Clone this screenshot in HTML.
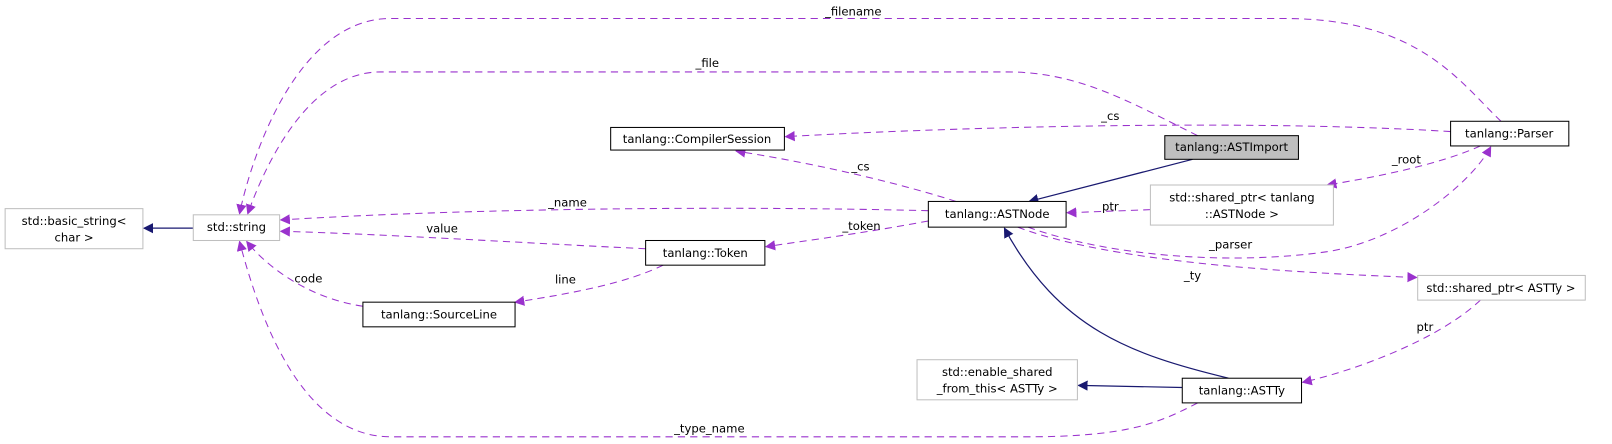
<!DOCTYPE html>
<html><head><meta charset="utf-8"><style>html,body{margin:0;padding:0;background:#fff}svg{display:block}</style></head>
<body>
<svg width="1612" height="444" viewBox="0 0 1568 432" preserveAspectRatio="none" xmlns="http://www.w3.org/2000/svg" font-family="'DejaVu Sans','Liberation Sans',sans-serif" font-size="11.3">
<defs>
<marker id="p" viewBox="0 0 10 10" refX="9" refY="5" markerWidth="10" markerHeight="10" markerUnits="userSpaceOnUse" orient="auto"><path d="M0,0 L10,5 L0,10 z" fill="#9a32cd"/></marker>
<marker id="n" viewBox="0 0 10 10" refX="9" refY="5" markerWidth="10" markerHeight="10" markerUnits="userSpaceOnUse" orient="auto"><path d="M0,0 L10,5 L0,10 z" fill="#191970"/></marker>
</defs>
<g fill="none" stroke="#191970" stroke-width="1.2">
<path d="M188,222 L140,222" marker-end="url(#n)"/>
<path d="M1160,155 L1001,196" marker-end="url(#n)"/>
<path d="M1195,368 C1100,345 1030,320 977,222" marker-end="url(#n)"/>
<path d="M1150,377 L1049,375" marker-end="url(#n)"/>
</g>
<g fill="none" stroke="#9a32cd" stroke-width="1" stroke-dasharray="7,5">
<path d="M1460,118 C1420,80 1380,18 1250,18 L380,18 C290,18 245,150 233,208" marker-end="url(#p)"/>
<path d="M1165,132 C1100,100 1050,70 980,70 L370,70 C300,70 258,160 241,208" marker-end="url(#p)"/>
<path d="M1411,128 C1200,115 900,125 764,133" marker-end="url(#p)"/>
<path d="M930,196 C880,180 800,160 716,147" marker-end="url(#p)"/>
<path d="M1440,142 C1400,160 1340,172 1291,180" marker-end="url(#p)"/>
<path d="M1119,204 L1038,207" marker-end="url(#p)"/>
<path d="M903,205 C700,200 450,203 273,214" marker-end="url(#p)"/>
<path d="M903,215 C850,225 800,232 745,240" marker-end="url(#p)"/>
<path d="M628,242 C500,236 380,228 273,225" marker-end="url(#p)"/>
<path d="M645,258 C610,275 560,285 501,294" marker-end="url(#p)"/>
<path d="M353,298 C300,290 260,260 240,235" marker-end="url(#p)"/>
<path d="M1000,221 C1080,250 1200,258 1290,245 C1360,235 1430,180 1450,143" marker-end="url(#p)"/>
<path d="M990,221 C1080,255 1250,265 1378,270" marker-end="url(#p)"/>
<path d="M1440,292 C1400,330 1320,360 1267,372" marker-end="url(#p)"/>
<path d="M1165,392 C1130,410 1100,425 1000,425 L380,425 C290,425 250,300 233,235" marker-end="url(#p)"/>
</g>
<g fill="#000" text-anchor="middle">
<text x="830" y="15">_filename</text>
<text x="688" y="65">_file</text>
<text x="1080" y="117">_cs</text>
<text x="837" y="166">_cs</text>
<text x="1368" y="159">_root</text>
<text x="1080" y="205">ptr</text>
<text x="552" y="201">_name</text>
<text x="838" y="224">_token</text>
<text x="430" y="226">value</text>
<text x="550" y="276">line</text>
<text x="300" y="275">code</text>
<text x="1197" y="242">_parser</text>
<text x="1160" y="272">_ty</text>
<text x="1386" y="322">ptr</text>
<text x="690" y="421">_type_name</text>
</g>
<g stroke-width="1">
<rect x="5" y="203" width="134" height="39" fill="#fff" stroke="#bfbfbf"/>
<rect x="188" y="209" width="84" height="25" fill="#fff" stroke="#bfbfbf"/>
<rect x="353" y="294" width="148" height="24" fill="#fff" stroke="#000"/>
<rect x="628" y="234" width="116" height="24" fill="#fff" stroke="#000"/>
<rect x="594" y="124" width="169" height="22" fill="#fff" stroke="#000"/>
<rect x="1133" y="132" width="130" height="23" fill="#bfbfbf" stroke="#000"/>
<rect x="903" y="196" width="134" height="25" fill="#fff" stroke="#000"/>
<rect x="1119" y="180" width="178" height="39" fill="#fff" stroke="#bfbfbf"/>
<rect x="1411" y="118" width="115" height="24" fill="#fff" stroke="#000"/>
<rect x="1379" y="268" width="163" height="24" fill="#fff" stroke="#bfbfbf"/>
<rect x="892" y="350" width="156" height="39" fill="#fff" stroke="#bfbfbf"/>
<rect x="1150" y="368" width="116" height="24" fill="#fff" stroke="#000"/>
</g>
<g fill="#000" text-anchor="middle">
<text x="72" y="219">std::basic_string&lt;</text>
<text x="72" y="235">char &gt;</text>
<text x="230" y="225">std::string</text>
<text x="427" y="310">tanlang::SourceLine</text>
<text x="686" y="250">tanlang::Token</text>
<text x="678" y="139">tanlang::CompilerSession</text>
<text x="1198" y="147">tanlang::ASTImport</text>
<text x="970" y="212">tanlang::ASTNode</text>
<text x="1208" y="196">std::shared_ptr&lt; tanlang</text>
<text x="1208" y="212">::ASTNode &gt;</text>
<text x="1468" y="134">tanlang::Parser</text>
<text x="1460" y="284">std::shared_ptr&lt; ASTTy &gt;</text>
<text x="970" y="366">std::enable_shared</text>
<text x="970" y="382">_from_this&lt; ASTTy &gt;</text>
<text x="1208" y="384">tanlang::ASTTy</text>
</g>
</svg>
</body></html>
